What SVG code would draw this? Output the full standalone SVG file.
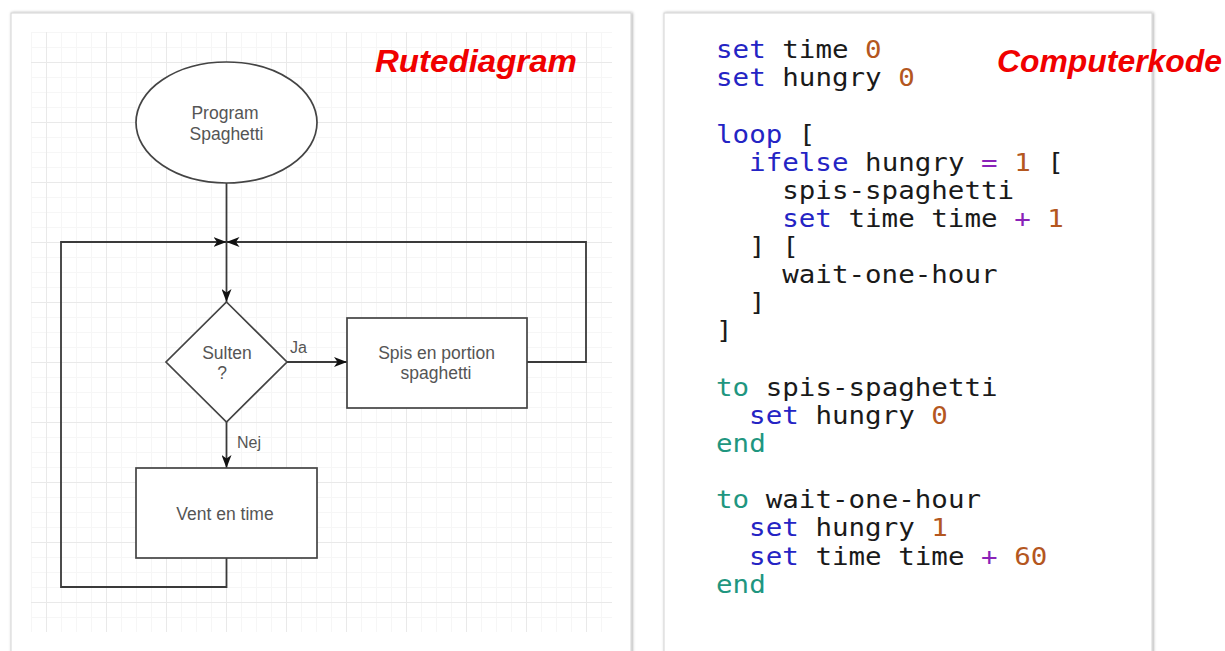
<svg xmlns="http://www.w3.org/2000/svg" width="1225" height="651" viewBox="0 0 1225 651">
<defs>
<filter id="sh" x="-5%" y="-5%" width="110%" height="110%">
<feDropShadow dx="1" dy="0" stdDeviation="1.5" flood-color="#000" flood-opacity="0.35"/>
</filter>
<marker id="arr" viewBox="0 0 13 10" refX="13" refY="5" markerWidth="13" markerHeight="10" markerUnits="userSpaceOnUse" orient="auto">
<path d="M0,0 L13,5 L0,10 L3.5,5 Z" fill="#111"/>
</marker>
<pattern id="minor" x="31" y="32" width="15" height="15" patternUnits="userSpaceOnUse">
<path d="M0,0.5 H15 M0.5,0 V15" stroke="#f6f6f6" stroke-width="1" fill="none"/>
</pattern>
<pattern id="major" x="46" y="62" width="60" height="60" patternUnits="userSpaceOnUse">
<path d="M0,0.5 H60 M0.5,0 V60" stroke="#e9e9e9" stroke-width="1" fill="none"/>
</pattern>
</defs>
<style>
.node{fill:#fff;stroke:#444;stroke-width:1.7}
.lbl{font-family:"Liberation Sans",Arial,sans-serif;font-size:17.5px;fill:#555;text-anchor:middle}
.elbl{font-family:"Liberation Sans",Arial,sans-serif;font-size:16px;fill:#555}
.conn{fill:none;stroke:#3a3a3a;stroke-width:1.8}
.title{font-family:"Liberation Sans",Arial,sans-serif;font-size:32px;font-weight:bold;font-style:italic;fill:#f00000}
.code{font-family:"DejaVu Sans Mono",monospace;font-size:24.2px;fill:#1a1a1a}
.kw{fill:#2424c4}
.num{fill:#b4571f}
.op{fill:#8a22b8}
.def{fill:#1f9680}
</style>
<rect x="0" y="0" width="1225" height="651" fill="#fff"/>
<g id="panel-left">
<rect x="11" y="13" width="620" height="660" fill="#fff" stroke="#d4d4d4" stroke-width="1" filter="url(#sh)"/>
<rect x="31" y="32" width="581" height="600" fill="url(#minor)"/>
<rect x="31" y="32" width="581" height="600" fill="url(#major)"/>
</g>
<g id="panel-right">
<rect x="664" y="13" width="488" height="660" fill="#fff" stroke="#d4d4d4" stroke-width="1" filter="url(#sh)"/>
</g>
<g id="connectors">
<path class="conn" d="M226.5,183 V302" marker-end="url(#arr)"/>
<path class="conn" d="M226.5,558 V587 H61 V242 H226.5" marker-end="url(#arr)"/>
<path class="conn" d="M527,362 H586 V242 H226.5" marker-end="url(#arr)"/>
<path class="conn" d="M287,362 H347" marker-end="url(#arr)"/>
<path class="conn" d="M226.5,422 V468" marker-end="url(#arr)"/>
<text class="elbl" x="290" y="353">Ja</text>
<text class="elbl" x="237" y="448">Nej</text>
</g>
<g id="start">
<ellipse class="node" cx="226.5" cy="122.5" rx="90.5" ry="60.5"/>
<text class="lbl" x="225" y="119">Program</text>
<text class="lbl" x="226.5" y="140">Spaghetti</text>
</g>
<g id="decision">
<polygon class="node" points="226.5,302 287,362 226.5,422 166,362"/>
<text class="lbl" x="227" y="359">Sulten</text>
<text class="lbl" x="222" y="379">?</text>
</g>
<g id="eat">
<rect class="node" x="347" y="318" width="180" height="90"/>
<text class="lbl" x="436.5" y="359">Spis en portion</text>
<text class="lbl" x="436" y="379">spaghetti</text>
</g>
<g id="wait">
<rect class="node" x="136" y="468" width="181" height="90"/>
<text class="lbl" x="225" y="520">Vent en time</text>
</g>
<g id="titles">
<text class="title" x="375" y="72" textLength="202" lengthAdjust="spacingAndGlyphs">Rutediagram</text>
<text class="title" x="997" y="72" textLength="225" lengthAdjust="spacingAndGlyphs">Computerkode</text>
</g>
<g id="code" transform="translate(716,0) scale(1.137,1)">
<text class="code" x="0" y="58"><tspan class="kw">set</tspan> time <tspan class="num">0</tspan></text>
<text class="code" x="0" y="86.3"><tspan class="kw">set</tspan> hungry <tspan class="num">0</tspan></text>
<text class="code" x="0" y="142.6"><tspan class="kw">loop</tspan> [</text>
<text class="code" x="29.14" y="170.7"><tspan class="kw">ifelse</tspan> hungry <tspan class="op">=</tspan> <tspan class="num">1</tspan> [</text>
<text class="code" x="58.27" y="198.8">spis-spaghetti</text>
<text class="code" x="58.27" y="227"><tspan class="kw">set</tspan> time time <tspan class="op">+</tspan> <tspan class="num">1</tspan></text>
<text class="code" x="29.14" y="255.1">] [</text>
<text class="code" x="58.27" y="283.3">wait-one-hour</text>
<text class="code" x="29.14" y="311.4">]</text>
<text class="code" x="0" y="339.5">]</text>
<text class="code" x="0" y="395.8"><tspan class="def">to</tspan> spis-spaghetti</text>
<text class="code" x="29.14" y="424"><tspan class="kw">set</tspan> hungry <tspan class="num">0</tspan></text>
<text class="code" x="0" y="452.1"><tspan class="def">end</tspan></text>
<text class="code" x="0" y="508.4"><tspan class="def">to</tspan> wait-one-hour</text>
<text class="code" x="29.14" y="536.5"><tspan class="kw">set</tspan> hungry <tspan class="num">1</tspan></text>
<text class="code" x="29.14" y="564.7"><tspan class="kw">set</tspan> time time <tspan class="op">+</tspan> <tspan class="num">60</tspan></text>
<text class="code" x="0" y="592.8"><tspan class="def">end</tspan></text>
</g>
</svg>
